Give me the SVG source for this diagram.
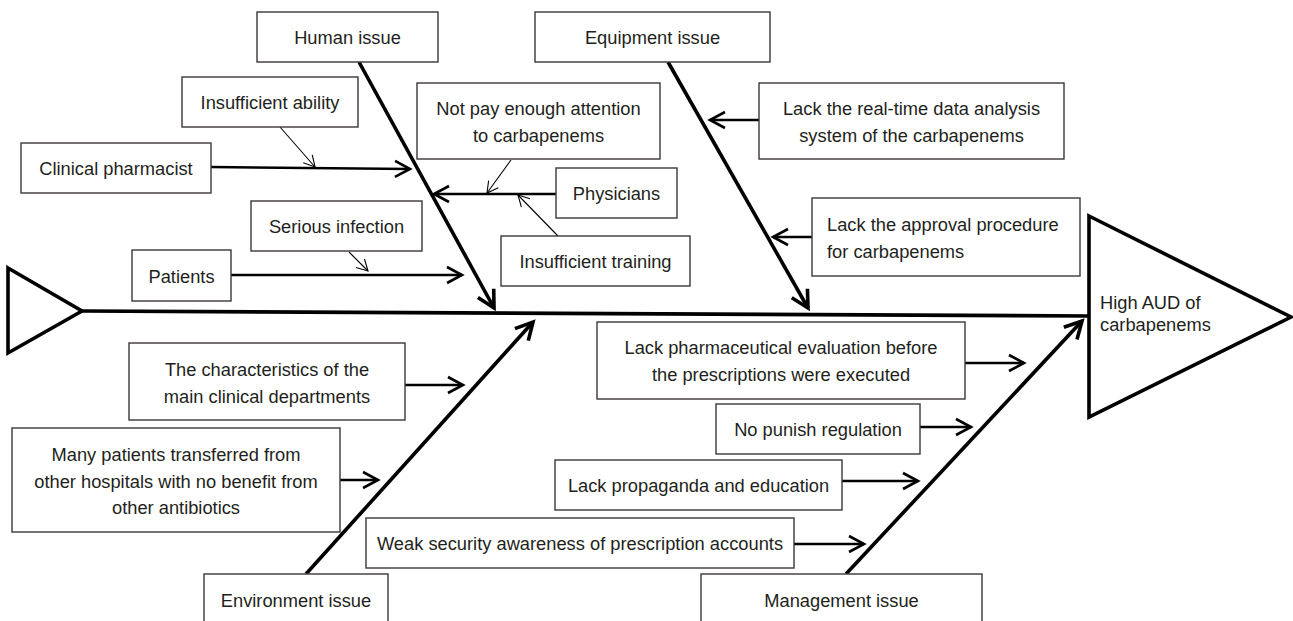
<svg xmlns="http://www.w3.org/2000/svg" width="1293" height="621" viewBox="0 0 1293 621">
<style>
.box{fill:#fff;stroke:#3d3738;stroke-width:1.4}
.t{font-family:"Liberation Sans",Arial,sans-serif;font-size:18.3px;fill:#231f20;text-anchor:middle}
.tl{text-anchor:start}
.bone{stroke:#000;stroke-width:3.6;fill:none}
.mid{stroke:#000;stroke-width:2.6;fill:none}
.thin{stroke:#000;stroke-width:1.1;fill:none}
.shape{fill:#fff;stroke:#000;stroke-width:3.6;stroke-linejoin:miter}
</style>
<defs>
<marker id="ab" markerUnits="userSpaceOnUse" orient="auto" markerWidth="30" markerHeight="30" refX="0" refY="0" viewBox="-20 -15 30 30" overflow="visible">
<path d="M-17,-9 L0,0 L-17,9" fill="none" stroke="#000" stroke-width="3.6"/>
</marker>
<marker id="am" markerUnits="userSpaceOnUse" orient="auto" markerWidth="30" markerHeight="30" refX="0" refY="0" viewBox="-20 -15 30 30" overflow="visible">
<path d="M-15,-8 L0,0 L-15,8" fill="none" stroke="#000" stroke-width="2.6"/>
</marker>
<marker id="at" markerUnits="userSpaceOnUse" orient="auto" markerWidth="20" markerHeight="20" refX="0" refY="0" viewBox="-15 -10 20 20" overflow="visible">
<path d="M-11,-6 L0,0 L-11,6" fill="none" stroke="#000" stroke-width="1.1"/>
</marker>
</defs>
<rect width="1293" height="621" fill="#fff"/>

<g id="connectors">
<polygon class="shape" points="8,268 82,311 8,353"/>
<line class="bone" x1="82" y1="311" x2="1089" y2="316"/>
<line class="bone" x1="359" y1="62" x2="494" y2="308" marker-end="url(#ab)"/>
<line class="bone" x1="668" y1="62" x2="808" y2="308" marker-end="url(#ab)"/>
<line class="bone" x1="306" y1="574" x2="533" y2="322" marker-end="url(#ab)"/>
<line class="bone" x1="846" y1="574" x2="1082" y2="321" marker-end="url(#ab)"/>

<line class="mid" x1="211" y1="167" x2="410" y2="169" marker-end="url(#am)"/>
<line class="mid" x1="231" y1="275" x2="462" y2="275" marker-end="url(#am)"/>
<line class="mid" x1="556" y1="194" x2="434" y2="194" marker-end="url(#am)"/>
<line class="mid" x1="759" y1="120" x2="710" y2="120" marker-end="url(#am)"/>
<line class="mid" x1="812" y1="237" x2="773" y2="237" marker-end="url(#am)"/>
<line class="mid" x1="405" y1="385" x2="463" y2="385" marker-end="url(#am)"/>
<line class="mid" x1="340" y1="480" x2="378" y2="480" marker-end="url(#am)"/>
<line class="mid" x1="965" y1="363" x2="1024" y2="363" marker-end="url(#am)"/>
<line class="mid" x1="920" y1="427" x2="971" y2="427" marker-end="url(#am)"/>
<line class="mid" x1="842" y1="481" x2="918" y2="481" marker-end="url(#am)"/>
<line class="mid" x1="794" y1="544" x2="864" y2="544" marker-end="url(#am)"/>

<line class="thin" x1="280" y1="127" x2="315" y2="167" marker-end="url(#at)"/>
<line class="thin" x1="349" y1="252" x2="368" y2="271" marker-end="url(#at)"/>
<line class="thin" x1="511" y1="160" x2="487" y2="193" marker-end="url(#at)"/>
<line class="thin" x1="558" y1="236" x2="518" y2="195" marker-end="url(#at)"/>
</g>

<g id="n-result">
<polygon class="shape" points="1089,216 1291,317 1089,417"/>
<text class="t tl" x="1100" y="309">High AUD of</text>
<text class="t tl" x="1100" y="331">carbapenems</text>
</g>

<g id="n-human"><rect class="box" x="257" y="12" width="181" height="50"/><text class="t" x="347.5" y="43.5">Human issue</text></g>
<g id="n-equipment"><rect class="box" x="535" y="12" width="235" height="50"/><text class="t" x="652.5" y="43.5">Equipment issue</text></g>
<g id="n-ability"><rect class="box" x="182" y="77" width="176" height="50"/><text class="t" x="270" y="108.5">Insufficient ability</text></g>
<g id="n-pharmacist"><rect class="box" x="21" y="143" width="190" height="50"/><text class="t" x="116" y="174.5">Clinical pharmacist</text></g>
<g id="n-infection"><rect class="box" x="251" y="201" width="171" height="50"/><text class="t" x="336.5" y="232.5">Serious infection</text></g>
<g id="n-patients"><rect class="box" x="132" y="250" width="99" height="51"/><text class="t" x="181.5" y="282.5">Patients</text></g>
<g id="n-attention"><rect class="box" x="417" y="83" width="243" height="76"/><text class="t" x="538.5" y="114.5">Not pay enough attention</text><text class="t" x="538.5" y="141.5">to carbapenems</text></g>
<g id="n-physicians"><rect class="box" x="556" y="168" width="121" height="50"/><text class="t" x="616.5" y="199.5">Physicians</text></g>
<g id="n-training"><rect class="box" x="501" y="236" width="189" height="50"/><text class="t" x="595.5" y="267.5">Insufficient training</text></g>
<g id="n-realtime"><rect class="box" x="759" y="83" width="305" height="76"/><text class="t" x="911.5" y="114.5">Lack the real-time data analysis</text><text class="t" x="911.5" y="141.5">system of the carbapenems</text></g>
<g id="n-approval"><rect class="box" x="812" y="198" width="268" height="78"/><text class="t tl" x="827" y="230.5">Lack the approval procedure</text><text class="t tl" x="827" y="257.5">for carbapenems</text></g>
<g id="n-departments"><rect class="box" x="129" y="343" width="276" height="77"/><text class="t" x="267" y="375.5">The characteristics of the</text><text class="t" x="267" y="402.5">main clinical departments</text></g>
<g id="n-transferred"><rect class="box" x="12" y="428" width="328" height="104"/><text class="t" x="176" y="460.5">Many patients transferred from</text><text class="t" x="176" y="487.5">other hospitals with no benefit from</text><text class="t" x="176" y="513.5">other antibiotics</text></g>
<g id="n-environment"><rect class="box" x="204" y="574" width="184" height="60"/><text class="t" x="296" y="606.5">Environment issue</text></g>
<g id="n-evaluation"><rect class="box" x="597" y="322" width="368" height="77"/><text class="t" x="781" y="353.5">Lack pharmaceutical evaluation before</text><text class="t" x="781" y="380.5">the prescriptions were executed</text></g>
<g id="n-punish"><rect class="box" x="716" y="404" width="204" height="50"/><text class="t" x="818" y="435.5">No punish regulation</text></g>
<g id="n-propaganda"><rect class="box" x="555" y="460" width="287" height="50"/><text class="t" x="698.5" y="491.5">Lack propaganda and education</text></g>
<g id="n-security"><rect class="box" x="366" y="518" width="428" height="50"/><text class="t" x="580" y="549.5">Weak security awareness of prescription accounts</text></g>
<g id="n-management"><rect class="box" x="701" y="574" width="281" height="60"/><text class="t" x="841.5" y="606.5">Management issue</text></g>
</svg>
